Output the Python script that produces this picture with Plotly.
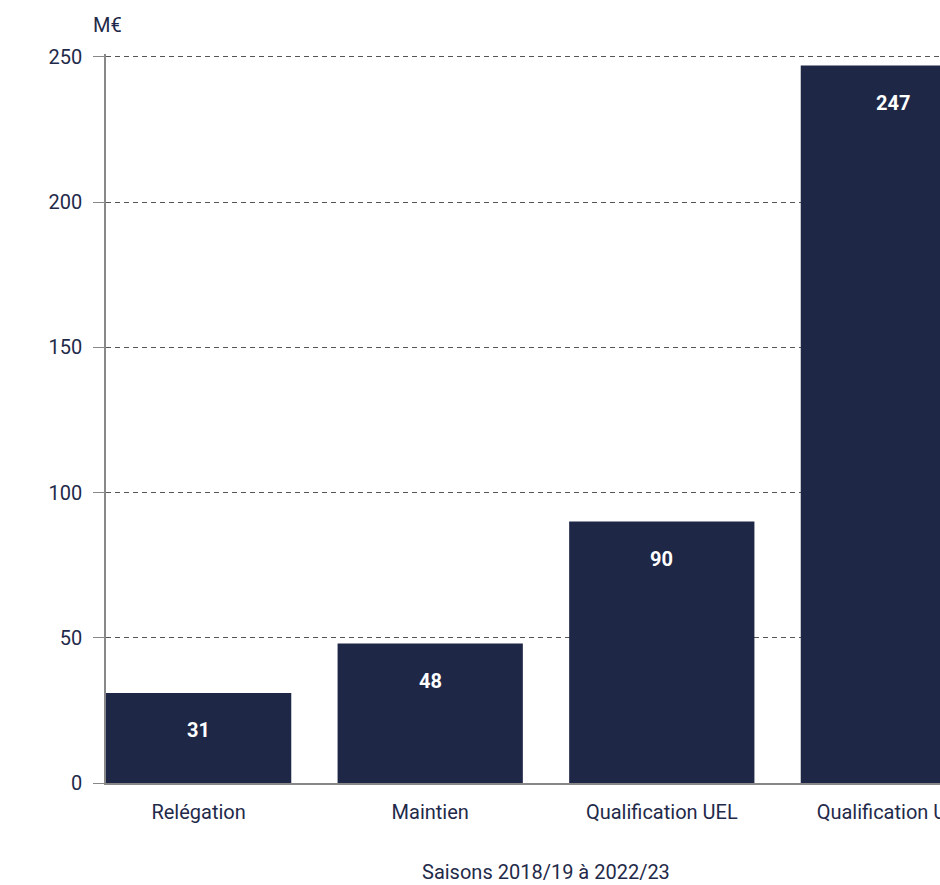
import plotly.graph_objects as go

categories = ["Relégation", "Maintien", "Qualification UEL", "Qualification UCL"]
values = [31, 48, 90, 247]
value_labels = ["31", "48", "90", "247"]
y_ticks = [0, 50, 100, 150, 200, 250]

BAR = "#1f2747"
TXT = "#1f2a4a"
FONT = "Roboto"

fig = go.Figure()
fig.add_trace(go.Bar(
    x=categories, y=values, marker=dict(color=BAR, line=dict(width=0)),
    hoverinfo="skip",
))

for c, v, t in zip(categories, values, value_labels):
    fig.add_annotation(x=c, y=v, text=f"<b>{t}</b>", showarrow=False,
                       yshift=-37, font=dict(family=FONT, size=20, color="white"))

fig.add_annotation(xref="paper", yref="paper", x=-0.017, y=1.0, yshift=43,
                   text="M€", showarrow=False, xanchor="left",
                   font=dict(family=FONT, size=20, color=TXT))

fig.add_annotation(xref="paper", yref="paper", x=0.5, y=0, yshift=-89,
                   yanchor="middle", text="Saisons 2018/19 à 2022/23",
                   showarrow=False, borderpad=0,
                   font=dict(family=FONT, size=20, color=TXT))

fig.update_layout(
    width=1006, height=885,
    margin=dict(l=106, r=20, t=54, b=102, autoexpand=False),
    plot_bgcolor="white", paper_bgcolor="white",
    bargap=0.2, showlegend=False,
    font=dict(family=FONT, size=20, color=TXT),
)
fig.update_xaxes(
    range=[-0.4, 3.4], showgrid=False, showline=True, linecolor="#888888",
    linewidth=1.5, ticks="", ticklabelstandoff=10, automargin=False,
    tickfont=dict(family=FONT, size=20, color=TXT),
)
fig.update_yaxes(
    range=[0, 251], tickvals=y_ticks, showgrid=True, griddash="5px,4px",
    gridcolor="#555555", gridwidth=1, zeroline=False, showline=True,
    linecolor="#888888", linewidth=1.5, ticks="outside", ticklen=11,
    tickcolor="#888888", ticklabelstandoff=7, automargin=False,
    tickfont=dict(family=FONT, size=20, color=TXT),
)

fig.write_html("out.html", config={"displayModeBar": False}, post_script=(
    "document.body.style.margin='0';"
    "document.body.style.overflow='hidden';"
    "document.documentElement.style.overflow='hidden';"
))
